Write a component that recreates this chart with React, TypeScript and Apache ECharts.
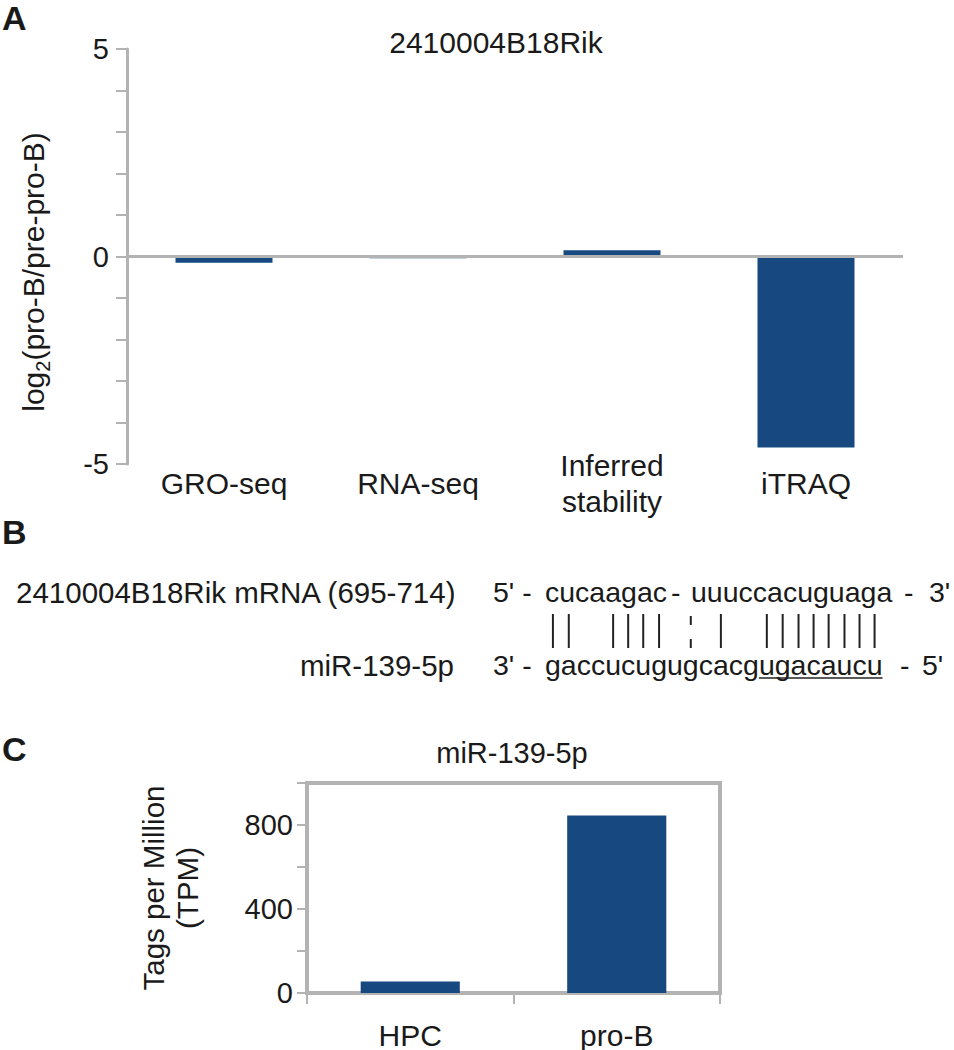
import React, { useEffect, useRef } from 'react';
import * as echarts from 'echarts';

const FONT = '"Liberation Sans", Arial, Helvetica, sans-serif';
const BLUE = '#17487f';
const GRAY = '#b3b3b3';
const TEXT = '#1a1a1a';

// ---- Panel A data ----
const aTitle = '2410004B18Rik';
const aCategories = ['GRO-seq', 'RNA-seq', 'Inferred\nstability', 'iTRAQ'];
const aValues = [-0.15, -0.04, 0.15, -4.6];
const aTickLabels = [-5, 0, 5];

// ---- Panel B data ----
const mrnaLabel = '2410004B18Rik mRNA (695-714)';
const mirLabel = 'miR-139-5p';
const mrnaLeft = 'cucaagac';
const mrnaRight = 'uuuccacuguaga';
const mirSeq = 'gaccucugugcacgugacaucu';
const pairing = '||  |||| : |  ||||||||'; // aligned to mirSeq characters
const seedStart = 14;
const seedEnd = 21;

// ---- Panel C data ----
const cTitle = 'miR-139-5p';
const cCategories = ['HPC', 'pro-B'];
const cValues = [55, 845];
const cTickLabels = [0, 400, 800];

const FS_B = 28.5;
const FS_BL = 29.5;

function measure(s: string, size: number): number {
  const c = document.createElement('canvas').getContext('2d');
  if (!c) return s.length * size * 0.55;
  c.font = `${size}px "Liberation Sans", Arial, sans-serif`;
  return c.measureText(s).width;
}

function txt(x: number, y: number, text: string, size: number, opts: any = {}) {
  return {
    type: 'text',
    x,
    y,
    rotation: opts.rotation || 0,
    silent: true,
    style: {
      text,
      fontSize: size,
      fontFamily: FONT,
      fontWeight: opts.bold ? 'bold' : 'normal',
      fill: TEXT,
      align: opts.align || 'left',
      verticalAlign: 'middle',
      lineHeight: opts.lineHeight,
      rich: opts.rich,
    },
  };
}

function buildPanelB(): any[] {
  const els: any[] = [];
  const seqX = 545;
  const topY = 592;
  const botY = 665;
  els.push(txt(16, topY, mrnaLabel, FS_BL));
  els.push(txt(454, botY, mirLabel, FS_BL, { align: 'right' }));
  els.push(txt(493, topY, "5' -", FS_B));
  els.push(txt(seqX, topY, mrnaLeft, FS_B));
  els.push(txt(671, topY, '-', FS_B));
  els.push(txt(691, topY, mrnaRight, FS_B));
  els.push(txt(904, topY, '-', FS_B));
  els.push(txt(929, topY, "3'", FS_B));
  els.push(txt(493, botY, "3' -", FS_B));
  els.push(txt(seqX, botY, mirSeq, FS_B));
  els.push(txt(900, botY, '-', FS_B));
  els.push(txt(922, botY, "5'", FS_B));

  const lineStyle = { stroke: '#222', lineWidth: 2 };
  for (let i = 0; i < pairing.length; i++) {
    const ch = pairing[i];
    if (ch === ' ') continue;
    const cx = seqX + measure(mirSeq.slice(0, i), FS_B) + measure(mirSeq[i], FS_B) / 2;
    if (ch === '|') {
      els.push({ type: 'line', silent: true, shape: { x1: cx, y1: 614, x2: cx, y2: 648 }, style: lineStyle });
    } else {
      els.push({ type: 'line', silent: true, shape: { x1: cx, y1: 616, x2: cx, y2: 625 }, style: lineStyle });
      els.push({ type: 'line', silent: true, shape: { x1: cx, y1: 639, x2: cx, y2: 648 }, style: lineStyle });
    }
  }
  const ux1 = seqX + measure(mirSeq.slice(0, seedStart), FS_B);
  const ux2 = seqX + measure(mirSeq.slice(0, seedEnd + 1), FS_B);
  els.push({ type: 'line', silent: true, shape: { x1: ux1, y1: 678, x2: ux2, y2: 678 }, style: { stroke: '#222', lineWidth: 1.5 } });
  return els;
}

export default function App() {
  const ref = useRef<HTMLDivElement>(null);
  useEffect(() => {
    if (!ref.current) return;
    const chart = echarts.init(ref.current, undefined, { renderer: 'svg' });
    const axisLabelBase = { color: TEXT, fontFamily: FONT };
    const option: any = {
      animation: false,
      backgroundColor: '#ffffff',
      grid: [
        { left: 127, top: 49, width: 776, height: 415 },
        { left: 307, top: 783, width: 413, height: 210, show: true, borderColor: GRAY, borderWidth: 4, backgroundColor: 'transparent' },
      ],
      xAxis: [
        {
          gridIndex: 0,
          type: 'category',
          data: aCategories,
          axisLine: { show: false, onZero: false },
          axisTick: { show: false },
          axisLabel: { ...axisLabelBase, interval: 0, fontSize: 30, lineHeight: 36, margin: 19, verticalAlign: 'middle' },
        },
        {
          gridIndex: 1,
          type: 'category',
          data: cCategories,
          axisLine: { show: true, lineStyle: { color: GRAY, width: 4 } },
          axisTick: { show: true, length: 11, lineStyle: { color: GRAY, width: 2 } },
          axisLabel: { ...axisLabelBase, interval: 0, fontSize: 30, margin: 42, verticalAlign: 'middle' },
        },
      ],
      yAxis: [
        {
          gridIndex: 0,
          type: 'value',
          min: -5,
          max: 5,
          interval: 1,
          splitLine: { show: false },
          axisLine: { show: true, lineStyle: { color: GRAY, width: 3 } },
          axisTick: { show: true, length: 11, lineStyle: { color: GRAY, width: 2 } },
          axisLabel: {
            ...axisLabelBase,
            fontSize: 29,
            margin: 18,
            formatter: (v: number) => (aTickLabels.includes(v) ? String(v) : ''),
          },
        },
        {
          gridIndex: 1,
          type: 'value',
          min: 0,
          max: 1000,
          interval: 200,
          splitLine: { show: false },
          axisLine: { show: true, lineStyle: { color: GRAY, width: 4 } },
          axisTick: { show: true, length: 10, lineStyle: { color: GRAY, width: 2 } },
          axisLabel: {
            ...axisLabelBase,
            fontSize: 29,
            margin: 14,
            formatter: (v: number) => (cTickLabels.includes(v) ? String(v) : ''),
          },
        },
      ],
      series: [
        {
          type: 'bar',
          xAxisIndex: 0,
          yAxisIndex: 0,
          data: aValues,
          barWidth: '50%',
          itemStyle: { color: BLUE },
          markLine: {
            silent: true,
            symbol: 'none',
            label: { show: false },
            lineStyle: { color: GRAY, width: 3, type: 'solid' },
            data: [{ yAxis: 0 }],
          },
        },
        {
          type: 'bar',
          xAxisIndex: 1,
          yAxisIndex: 1,
          data: cValues,
          barWidth: '48%',
          itemStyle: { color: BLUE },
        },
      ],
      graphic: [
        txt(2, 18, 'A', 34, { bold: true }),
        txt(2, 532, 'B', 34, { bold: true }),
        txt(2, 749, 'C', 34, { bold: true }),
        txt(496, 42, aTitle, 30, { align: 'center' }),
        txt(512, 753, cTitle, 29, { align: 'center' }),
        txt(33, 272, '{a|log}{s|2}{a|(pro-B/pre-pro-B)}', 30, {
          align: 'center',
          rotation: Math.PI / 2,
          rich: {
            a: { fontSize: 30, fontFamily: FONT, fill: TEXT, lineHeight: 40 },
            s: { fontSize: 20, fontFamily: FONT, fill: TEXT, verticalAlign: 'bottom' },
          },
        }),
        txt(170, 888, 'Tags per Million\n(TPM)', 29.5, { align: 'center', rotation: Math.PI / 2, lineHeight: 34 }),
        ...buildPanelB(),
      ],
    };
    chart.setOption(option);
    return () => chart.dispose();
  }, []);
  return <div ref={ref} style={{ position: 'absolute', left: 0, top: 0, width: 954, height: 1050 }} />;
}
